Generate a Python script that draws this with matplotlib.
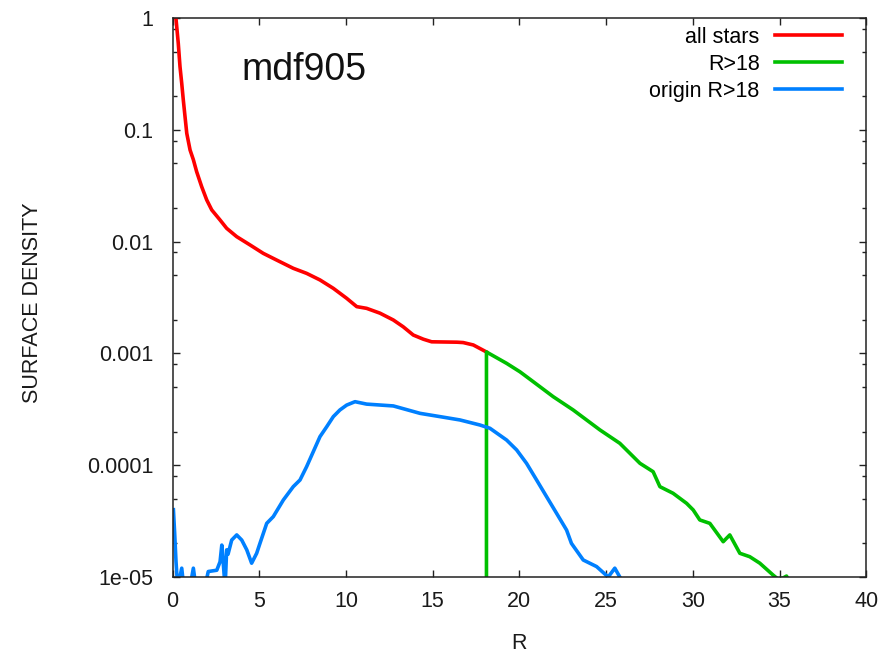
import numpy as np
import matplotlib
matplotlib.use("Agg")
import matplotlib.pyplot as plt
from matplotlib.ticker import FixedLocator, FixedFormatter, NullFormatter

plt.rcParams['font.family'] = ['Liberation Sans', 'DejaVu Sans']

# all stars
r_all = [0.1, 0.2, 0.33, 0.43, 0.53, 0.62, 0.72, 0.82, 1.01, 1.2, 1.39, 1.68,
         1.97, 2.26, 2.74, 3.12, 3.7, 4.47, 5.23, 6.0, 6.96, 7.73, 8.5, 9.27,
         10.04, 10.62, 11.19, 11.96, 12.73, 13.3, 13.88, 14.46, 14.94, 16.4,
         16.76, 17.34, 18.1]
d_all = [1.2, 0.98, 0.594, 0.367, 0.26, 0.185, 0.131, 0.093, 0.066, 0.054,
         0.0422, 0.031, 0.0236, 0.0192, 0.0156, 0.01315, 0.01107, 0.00933,
         0.00785, 0.00684, 0.00577, 0.0052, 0.00454, 0.00382, 0.00311, 0.00262,
         0.00253, 0.00229, 0.00199, 0.00173, 0.00146, 0.00134, 0.00127, 0.00126,
         0.00125, 0.00119, 0.00103]

# R>18
r_out = [18.1, 18.1, 19.26, 20.03, 20.8, 21.95, 23.1, 24.64, 25.79, 26.95, 27.71,
         28.1, 28.86, 29.64, 30.02, 30.4, 30.98, 31.75, 32.13, 32.71, 33.28,
         33.86, 34.63, 34.9, 35.2, 35.4, 35.5]
d_out = [9e-6, 0.00103, 8.15e-4, 6.85e-4, 5.58e-4, 4.10e-4, 3.12e-4, 2.07e-4,
         1.57e-4, 1.04e-4, 8.75e-5, 6.43e-5, 5.61e-5, 4.56e-5, 3.98e-5, 3.24e-5,
         3.02e-5, 2.07e-5, 2.38e-5, 1.63e-5, 1.52e-5, 1.33e-5, 1.04e-5, 9.6e-6,
         9.8e-6, 1.02e-5, 9.5e-6]

# origin R>18
r_org = [0.05, 0.12, 0.2, 0.3, 0.53, 0.65, 1.0, 1.2, 1.35, 1.85, 2.06, 2.55,
         2.74, 2.84, 2.92, 3.03, 3.12, 3.2, 3.41, 3.7, 3.99, 4.28, 4.56, 4.85,
         5.04, 5.43, 5.81, 6.39, 6.96, 7.35, 7.73, 8.5, 8.89, 9.27, 9.65, 10.04,
         10.52, 11.19, 12.73, 14.27, 15.42, 16.57, 17.72, 18.3, 19.26, 19.84,
         20.41, 20.99, 21.57, 22.14, 22.72, 23.0, 23.68, 24.45, 25.12, 25.5, 25.79]
d_org = [4.0e-5, 2.5e-5, 1.37e-5, 8e-6, 1.2e-5, 8e-6, 8e-6, 1.2e-5, 8e-6, 8e-6,
         1.12e-5, 1.15e-5, 1.37e-5, 1.93e-5, 1.37e-5, 8e-6, 1.75e-5, 1.6e-5,
         2.14e-5, 2.38e-5, 2.14e-5, 1.75e-5, 1.33e-5, 1.63e-5, 2.0e-5, 3.02e-5,
         3.47e-5, 4.89e-5, 6.43e-5, 7.38e-5, 9.7e-5, 1.80e-4, 2.21e-4, 2.72e-4,
         3.12e-4, 3.45e-4, 3.70e-4, 3.52e-4, 3.39e-4, 2.91e-4, 2.72e-4, 2.54e-4,
         2.29e-4, 2.14e-4, 1.68e-4, 1.37e-4, 1.04e-4, 7.38e-5, 5.22e-5, 3.72e-5,
         2.63e-5, 2.0e-5, 1.42e-5, 1.24e-5, 1.0e-5, 1.2e-5, 1.0e-5]

x_ticks = [0, 5, 10, 15, 20, 25, 30, 35, 40]
y_ticks = [1e-5, 1e-4, 1e-3, 1e-2, 1e-1, 1]
y_labels = ["1e-05", "0.0001", "0.001", "0.01", "0.1", "1"]

fs = 15.5
fig = plt.figure(figsize=(8.94, 6.54), dpi=100)
ax = fig.add_axes([0.193, 0.1177, 0.776, 0.8548])

lw = 2.6
ax.plot(r_all, d_all, color="#ff0000", lw=lw, label="all stars")
ax.plot(r_out, d_out, color="#00c000", lw=lw, label="R>18")
ax.plot(r_org, d_org, color="#0080ff", lw=lw, label="origin R>18")

ax.set_yscale("log")
ax.set_xlim(0, 40)
ax.set_ylim(1e-5, 1)

ax.xaxis.set_major_locator(FixedLocator(x_ticks))
ax.yaxis.set_major_locator(FixedLocator(y_ticks))
ax.yaxis.set_major_formatter(FixedFormatter(y_labels))
minors = [m * 10.0 ** e for e in range(-5, 0) for m in (2, 5, 8)]
ax.yaxis.set_minor_locator(FixedLocator(minors))
ax.yaxis.set_minor_formatter(NullFormatter())

ax.tick_params(which="both", direction="in", top=True, right=True,
               colors="#222222", labelcolor="#1a1a1a", labelsize=fs)
ax.tick_params(which="major", length=5, width=1)
ax.tick_params(which="minor", length=2.7, width=1)
ax.tick_params(axis="x", pad=10)
ax.tick_params(axis="y", pad=14)
for s in ax.spines.values():
    s.set_linewidth(1.1)
    s.set_color("#222222")

ax.set_xlabel("R", fontsize=fs, color="#1a1a1a")
ax.set_ylabel("SURFACE DENSITY", fontsize=fs, color="#1a1a1a")
ax.xaxis.set_label_coords(0.5, -0.101)
ax.yaxis.set_label_coords(-0.187, 0.49)

ax.text(0.1, 0.889, "mdf905", transform=ax.transAxes, fontsize=27,
        va="baseline", ha="left", color="#111111")

ax.legend(loc="upper right", bbox_to_anchor=(0.9643, 0.984), frameon=False,
          markerfirst=False, fontsize=fs, handlelength=3.1, handletextpad=0.7,
          labelspacing=0.28, borderpad=0, borderaxespad=0)

fig.savefig("out.png", dpi=100)
